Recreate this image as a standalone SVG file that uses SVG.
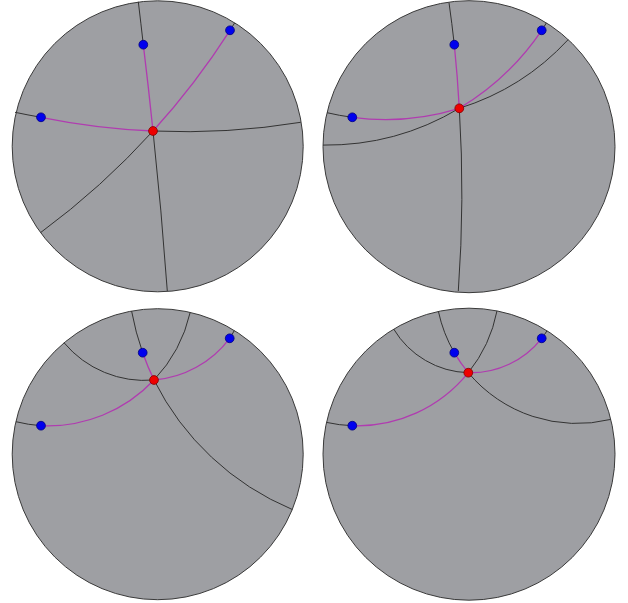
<svg xmlns="http://www.w3.org/2000/svg" width="628" height="603" viewBox="0 0 628 603">
<style>
.disk{fill:#9e9fa3;stroke:#3a3a3a;stroke-width:1}
.geo{fill:none;stroke:#333;stroke-width:1}
.seg{fill:none;stroke:#b03cb0;stroke-width:1.3}
.blue{fill:#0000ee;stroke:#000080;stroke-width:0.8}
.red{fill:#ee0000;stroke:#800000;stroke-width:0.8}
</style>
<rect width="628" height="603" fill="#ffffff"/>
<g id="disks">
<g id="disk1"><circle class="disk" cx="157.7" cy="146.3" r="145.5"/></g>
<g id="disk2"><circle class="disk" cx="469" cy="146.7" r="146"/></g>
<g id="disk3"><circle class="disk" cx="157.7" cy="454.2" r="145.5"/></g>
<g id="disk4"><circle class="disk" cx="469" cy="454.2" r="146"/></g>
</g>
<g id="connectors">
<!-- panel 1 -->
<path class="geo" d="M138.3,1.7 A4437,4437 0 0 1 143.3,44.7 M153,131 A4437,4437 0 0 1 167.3,291"/>
<path class="seg" d="M143.3,44.7 A4437,4437 0 0 1 153,131"/>
<path class="geo" d="M15,112.3 A716.7,716.7 0 0 0 41,117.3 M153,131 A716.7,716.7 0 0 0 300.7,122.3"/>
<path class="seg" d="M41,117.3 A716.7,716.7 0 0 0 153,131"/>
<path class="geo" d="M234.7,22.8 A760,760 0 0 1 230,30.3 M153,131 A760,760 0 0 1 40.6,232.6"/>
<path class="seg" d="M230,30.3 A760,760 0 0 1 153,131"/>
<!-- panel 2 -->
<path class="geo" d="M449,2.7 A1366,1366 0 0 1 454.3,44.7 M459.3,108.3 A1366,1366 0 0 1 458.3,291"/>
<path class="seg" d="M454.3,44.7 A1366,1366 0 0 1 459.3,108.3"/>
<path class="geo" d="M327,112.7 A249.6,249.6 0 0 0 352.3,117.3 M459.3,108.3 A249.6,249.6 0 0 0 568.2,39.6"/>
<path class="seg" d="M352.3,117.3 A249.6,249.6 0 0 0 459.3,108.3"/>
<path class="geo" d="M546.4,22.9 A260.2,260.2 0 0 1 541.7,30.3 M459.3,108.3 A260.2,260.2 0 0 1 323,145.1"/>
<path class="seg" d="M541.7,30.3 A260.2,260.2 0 0 1 459.3,108.3"/>
<!-- panel 3 -->
<path class="geo" d="M131.6,311.1 A272.2,272.2 0 0 0 142.7,352.7 M154,380 A272.2,272.2 0 0 0 292.3,509.5"/>
<path class="seg" d="M142.7,352.7 A272.2,272.2 0 0 0 154,380"/>
<path class="geo" d="M15.9,421.7 A145.6,145.6 0 0 0 41,425.7 M154,380 A145.6,145.6 0 0 0 190.2,312.4"/>
<path class="seg" d="M41,425.7 A145.6,145.6 0 0 0 154,380"/>
<path class="geo" d="M234.3,330.5 A105.4,105.4 0 0 1 229.7,338.3 M154,380 A105.4,105.4 0 0 1 64.1,342.8"/>
<path class="seg" d="M229.7,338.3 A105.4,105.4 0 0 1 154,380"/>
<!-- panel 4 -->
<path class="geo" d="M438.4,311.4 A141.7,141.7 0 0 0 454.3,352.7 M468.3,372.7 A141.7,141.7 0 0 0 610.8,419.4"/>
<path class="seg" d="M454.3,352.7 A141.7,141.7 0 0 0 468.3,372.7"/>
<path class="geo" d="M326.5,422.4 A142.2,142.2 0 0 0 352.3,425.7 M468.3,372.7 A142.2,142.2 0 0 0 497,310.9"/>
<path class="seg" d="M352.3,425.7 A142.2,142.2 0 0 0 468.3,372.7"/>
<path class="geo" d="M547,330.8 A90.1,90.1 0 0 1 541.7,338.3 M468.3,372.7 A90.1,90.1 0 0 1 393.7,329.1"/>
<path class="seg" d="M541.7,338.3 A90.1,90.1 0 0 1 468.3,372.7"/>
</g>
<g id="points">
<g id="p1-top"><circle class="blue" cx="143.3" cy="44.7" r="4.4"/></g>
<g id="p1-ur"><circle class="blue" cx="230" cy="30.3" r="4.4"/></g>
<g id="p1-left"><circle class="blue" cx="41" cy="117.3" r="4.4"/></g>
<g id="p1-center"><circle class="red" cx="153" cy="131" r="4.4"/></g>
<g id="p2-top"><circle class="blue" cx="454.3" cy="44.7" r="4.4"/></g>
<g id="p2-ur"><circle class="blue" cx="541.7" cy="30.3" r="4.4"/></g>
<g id="p2-left"><circle class="blue" cx="352.3" cy="117.3" r="4.4"/></g>
<g id="p2-center"><circle class="red" cx="459.3" cy="108.3" r="4.4"/></g>
<g id="p3-top"><circle class="blue" cx="142.7" cy="352.7" r="4.4"/></g>
<g id="p3-ur"><circle class="blue" cx="229.7" cy="338.3" r="4.4"/></g>
<g id="p3-left"><circle class="blue" cx="41" cy="425.7" r="4.4"/></g>
<g id="p3-center"><circle class="red" cx="154" cy="380" r="4.4"/></g>
<g id="p4-top"><circle class="blue" cx="454.3" cy="352.7" r="4.4"/></g>
<g id="p4-ur"><circle class="blue" cx="541.7" cy="338.3" r="4.4"/></g>
<g id="p4-left"><circle class="blue" cx="352.3" cy="425.7" r="4.4"/></g>
<g id="p4-center"><circle class="red" cx="468.3" cy="372.7" r="4.4"/></g>
</g>
</svg>
